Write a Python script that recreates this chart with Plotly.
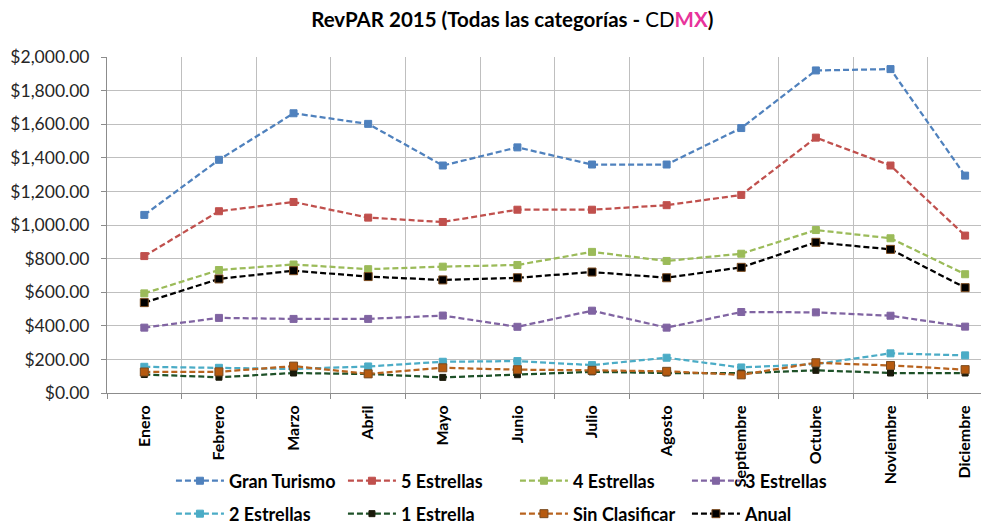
import plotly.graph_objects as go

# Datos RevPAR 2015 (CDMX)
meses = ["Enero", "Febrero", "Marzo", "Abril", "Mayo", "Junio", "Julio",
         "Agosto", "Septiembre", "Octubre", "Noviembre", "Diciembre"]

gran_turismo = [1060, 1388, 1665, 1602, 1354, 1462, 1360, 1360, 1577, 1920, 1928, 1294]
cinco_estrellas = [815, 1082, 1137, 1044, 1018, 1091, 1091, 1118, 1179, 1520, 1354, 937]
cuatro_estrellas = [593, 732, 765, 737, 752, 762, 840, 786, 829, 970, 921, 707]
tres_estrellas = [389, 447, 441, 441, 461, 394, 490, 389, 482, 480, 460, 395]
dos_estrellas = [156, 150, 143, 158, 186, 190, 166, 210, 152, 172, 236, 224]
una_estrella = [110, 94, 119, 113, 93, 109, 126, 119, 118, 135, 119, 119]
sin_clasificar = [125, 126, 160, 114, 150, 139, 135, 129, 108, 180, 164, 139]
anual = [538, 679, 728, 693, 673, 686, 720, 686, 748, 897, 855, 627]

series = [
    ("Gran Turismo", gran_turismo, "#4F81BD", "#4F81BD", 7, "legend"),
    ("5 Estrellas", cinco_estrellas, "#C0504D", "#C0504D", 7, "legend"),
    ("4 Estrellas", cuatro_estrellas, "#9BBB59", "#9BBB59", 7, "legend"),
    ("3 Estrellas", tres_estrellas, "#8064A2", "#8064A2", 7, "legend"),
    ("2 Estrellas", dos_estrellas, "#4BACC6", "#4BACC6", 7, "legend2"),
    ("1 Estrella", una_estrella, "#1E5128", "#1A1A0A", 6, "legend2"),
    ("Sin Clasificar", sin_clasificar, "#B8631E", "#B65A10", 8, "legend2"),
    ("Anual", anual, "#000000", "#000000", 8, "legend2"),
]

fig = go.Figure()

for name, values, line_color, marker_color, msize, leg in series:
    fig.add_trace(
        go.Scatter(
            x=meses,
            y=values,
            name=name,
            mode="lines+markers",
            line=dict(color=line_color, width=2.25, dash="6px,3px"),
            marker=dict(symbol="square", size=msize, color=marker_color,
                        line=dict(color="#7A4A1E" if name in ("Anual", "Sin Clasificar") else marker_color, width=1)),
            legend=leg,
        )
    )

legend_style = dict(
    orientation="h",
    xanchor="left",
    yanchor="middle",
    entrywidth=109,
    entrywidthmode="pixels",
    itemwidth=48,
    bgcolor="rgba(0,0,0,0)",
    font=dict(family="Lato", size=18, color="#000000", weight="bold"),
)

# the page body has an 8px margin, so the figure is 8px smaller than the window
fig.update_layout(
    width=981,
    height=519,
    paper_bgcolor="#FFFFFF",
    plot_bgcolor="#FFFFFF",
    font=dict(family="Lato", color="#262626"),
    title=dict(
        text="<b>RevPAR 2015 (Todas las categorías - </b>CD<b><span style='color:#E8339B'>MX</span>)</b>",
        font=dict(family="Lato", size=20.5, color="#000000"),
        x=0.514,
        xanchor="center",
        y=0.977,
        yanchor="middle",
    ),
    xaxis=dict(
        type="category",
        range=[-0.5, 11.32],
        tickson="boundaries",
        showgrid=True,
        gridcolor="#BFBFBF",
        gridwidth=1,
        showline=True,
        linecolor="#8C8C8C",
        ticks="outside",
        ticklen=5,
        tickcolor="#8C8C8C",
        tickangle=-90,
        ticklabelstandoff=5,
        tickfont=dict(family="Lato", size=16, color="#000000", weight="bold"),
    ),
    yaxis=dict(
        range=[0, 2000],
        dtick=200,
        tickformat="$,.2f",
        showgrid=True,
        gridcolor="#BFBFBF",
        gridwidth=1,
        showline=True,
        linecolor="#8C8C8C",
        ticks="outside",
        ticklen=5,
        tickcolor="#8C8C8C",
        zeroline=False,
        ticklabelstandoff=8,
        tickfont=dict(family="Lato", size=17.5, color="#262626"),
    ),
    legend=dict(legend_style, x=0.0725, y=-0.262),
    legend2=dict(legend_style, x=0.0725, y=-0.36),
    margin=dict(l=99, r=0, t=49, b=134, autoexpand=False),
)

fig.write_html("out.html")
